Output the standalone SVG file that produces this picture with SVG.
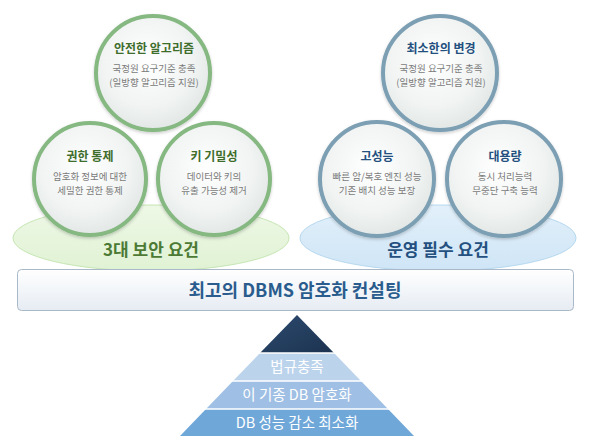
<svg xmlns="http://www.w3.org/2000/svg" width="590" height="447" viewBox="0 0 590 447">
<defs>
<radialGradient id="cg" cx="0.45" cy="0.4" r="0.65">
<stop offset="0" stop-color="#ffffff"/>
<stop offset="0.6" stop-color="#f1f4f3"/>
<stop offset="1" stop-color="#dfe5e4"/>
</radialGradient>
<linearGradient id="boxg" x1="0" y1="0" x2="0" y2="1">
<stop offset="0" stop-color="#ffffff"/>
<stop offset="1" stop-color="#e6ecf3"/>
</linearGradient>
<linearGradient id="topg" x1="0" y1="0" x2="1" y2="1">
<stop offset="0" stop-color="#2c4a6e"/>
<stop offset="1" stop-color="#1c3350"/>
</linearGradient>
<linearGradient id="gel" x1="0" y1="0" x2="0" y2="1">
<stop offset="0" stop-color="#eef8e6"/>
<stop offset="1" stop-color="#e0f2d4"/>
</linearGradient>
<linearGradient id="bel" x1="0" y1="0" x2="0" y2="1">
<stop offset="0" stop-color="#e2f0fa"/>
<stop offset="1" stop-color="#cfe5f6"/>
</linearGradient>
<filter id="sh" x="-20%" y="-20%" width="140%" height="140%">
<feDropShadow dx="0" dy="1.5" stdDeviation="1.5" flood-color="#000" flood-opacity="0.2"/>
</filter>
</defs>
<style>
text{font-family:"Noto Sans CJK KR","Noto Sans",sans-serif;text-anchor:middle}
.gc{fill:url(#cg);stroke:#86b882;stroke-width:4;filter:url(#sh)}
.bc{fill:url(#cg);stroke:#7c9fb3;stroke-width:4;filter:url(#sh)}
.gt{font-size:12px;font-weight:bold;fill:#3f6d2c}
.bt{font-size:12px;font-weight:bold;fill:#24507f}
.st{font-size:9.5px;fill:#7a7a7a}
.el{font-size:17px;font-weight:bold}
.pt{font-size:14.5px;fill:#ffffff}
</style>
<g id="green-base">
<ellipse cx="151" cy="238" rx="138" ry="33" fill="url(#gel)" stroke="#c6e6b4" stroke-width="1"/>
<text class="el" x="151" y="256" fill="#4c7a35">3대 보안 요건</text>
</g>
<g id="blue-base">
<ellipse cx="438" cy="238" rx="138" ry="33" fill="url(#bel)" stroke="#b6d8ef" stroke-width="1"/>
<text class="el" x="438" y="256" fill="#24507f">운영 필수 요건</text>
</g>
<g id="g-left">
<circle class="gc" cx="90" cy="179" r="56"/>
<text class="gt" x="90" y="161">권한 통제</text>
<text class="st" x="90" y="180">암호화 정보에 대한</text>
<text class="st" x="90" y="194">세밀한 권한 통제</text>
</g>
<g id="g-right">
<circle class="gc" cx="214" cy="179" r="56"/>
<text class="gt" x="214" y="161">키 기밀성</text>
<text class="st" x="214" y="180">데이터와 키의</text>
<text class="st" x="214" y="194">유출 가능성 제거</text>
</g>
<g id="g-top">
<circle class="gc" cx="153" cy="73" r="57"/>
<text class="gt" x="154" y="53">안전한 알고리즘</text>
<text class="st" x="154" y="72">국정원 요구기준 충족</text>
<text class="st" x="154" y="86">(일방향 알고리즘 지원)</text>
</g>
<g id="b-left">
<circle class="bc" cx="377" cy="179" r="57"/>
<text class="bt" x="377" y="161">고성능</text>
<text class="st" x="377" y="180">빠른 암/복호 엔진 성능</text>
<text class="st" x="377" y="194">기존 배치 성능 보장</text>
</g>
<g id="b-right">
<circle class="bc" cx="504" cy="179" r="57"/>
<text class="bt" x="505" y="161">대용량</text>
<text class="st" x="505" y="180">동시 처리능력</text>
<text class="st" x="505" y="194">무중단 구축 능력</text>
</g>
<g id="b-top">
<circle class="bc" cx="440" cy="73" r="57"/>
<text class="bt" x="441" y="53">최소한의 변경</text>
<text class="st" x="441" y="72">국정원 요구기준 충족</text>
<text class="st" x="441" y="86">(일방향 알고리즘 지원)</text>
</g>
<g id="main-box">
<rect x="17.5" y="269.5" width="556" height="41" rx="4" fill="url(#boxg)" stroke="#a9b9c9" stroke-width="1"/>
<text x="295" y="297" font-size="18" font-weight="bold" fill="#2a5c8e">최고의 DBMS 암호화 컨설팅</text>
</g>
<g id="pyramid">
<polygon points="297,315 334,353 260,353" fill="url(#topg)"/>
<polygon points="260,353 334,353 361,381 233,381" fill="#bcd3ec"/>
<polygon points="233,381 361,381 388,409 206,409" fill="#9fc0e4"/>
<polygon points="206,409 388,409 414,436 180,436" fill="#6fa7d9"/>
<g stroke="#ffffff" stroke-width="1.5">
<line x1="259" y1="353" x2="335" y2="353"/>
<line x1="232" y1="381" x2="362" y2="381"/>
<line x1="205" y1="409" x2="389" y2="409"/>
</g>
<text class="pt" x="297" y="372">법규충족</text>
<text class="pt" x="297" y="400">이 기종 DB 암호화</text>
<text class="pt" x="297" y="428">DB 성능 감소 최소화</text>
</g>
</svg>
